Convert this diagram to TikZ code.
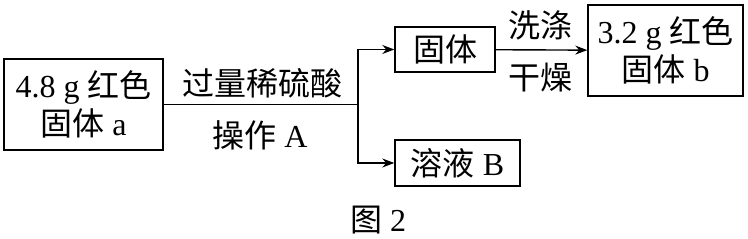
\documentclass[tikz,border=0pt]{standalone}
\usepackage{fontspec}
\usetikzlibrary{arrows.meta}
\setmainfont{Liberation Serif}
\newfontfamily\cjk{Noto Sans CJK SC}
\newcommand{\zh}[1]{{\cjk #1}}

\begin{document}
\begin{tikzpicture}[>={Stealth[length=6pt,width=4.5pt]}, x=0.5pt, y=-0.5pt, line width=0.7pt,
  every node/.style={font=\fontsize{16}{19}\selectfont, inner sep=0pt},
  box/.style={draw, rectangle, align=center},
  lbl/.style={align=center}]
\useasboundingbox (0,0) rectangle (748,239);
\node[box, minimum width=79.5pt, minimum height=45.5pt] (solida) at (83.5,104.5) {4.8 g \zh{红色}\\\zh{固体} a};
\node[box, minimum width=50pt, minimum height=22.5pt] (solid) at (445,49.5) {\zh{固体}};
\node[box, minimum width=62.5pt, minimum height=23pt] (soln) at (457.5,163) {\zh{溶液} B};
\node[box, minimum width=77.5pt, minimum height=45.5pt] (solidb) at (665.5,50.5) {3.2 g \zh{红色}\\\zh{固体} b};
\coordinate (split) at (358,104.5);

\node[lbl] (acid) at (262,83) {\zh{过量稀硫酸}};
\node[lbl] (opA) at (260,135) {\zh{操作} A};
\node[lbl] (wash) at (540,25) {\zh{洗涤}};
\node[lbl] (dry) at (540,78) {\zh{干燥}};
\node[lbl] (fig) at (378,220) {\zh{图} 2};

\draw (solida) -- (split);
\draw[->] (split) |- (solid);
\draw[->] (split) |- (soln);
\draw[->] (solid) -- (solidb);
\end{tikzpicture}
\end{document}
